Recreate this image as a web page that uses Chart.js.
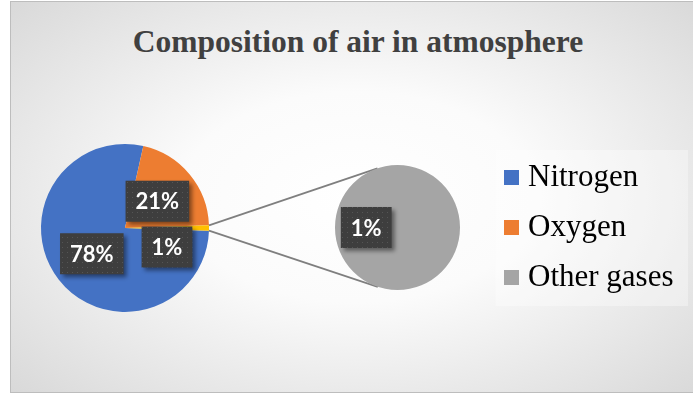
<!DOCTYPE html>
<html>
<head>
<meta charset="utf-8">
<script src="https://cdn.jsdelivr.net/npm/chart.js@4.4.0/dist/chart.umd.min.js"></script>
<style>
html, body { margin:0; padding:0; width:693px; height:394px; overflow:hidden; background:#fff; }
#marco {
    position:absolute; left:10px; top:1px; width:690px; height:390px;
    border:1px solid #bdbdbd;
    background: radial-gradient(ellipse 85% 90% at 50% 50%, #ffffff 0%, #fbfbfb 30%, #cccccc 100%);
}
#titulo {
    position:absolute; left:0; top:22px; width:716px; text-align:center;
    font: bold 31.5px "Liberation Serif", "Times New Roman", serif; line-height:40px; color:#404040;
}
canvas { position:absolute; left:0; top:0; }
</style>
</head>
<body>
<div id="marco"></div>
<div id="titulo">Composition of air in atmosphere</div>
<canvas id="graficaPrincipal" width="693" height="394"></canvas>
<canvas id="graficaSecundaria" width="693" height="394"></canvas>
<script>
// data (percent of air)
var categories = ["Nitrogen", "Oxygen", "Other gases"];
var values = [78, 21, 1];
var secondPieCount = 1; // last categories split off into the second pie

var total = values.reduce(function(a, b){ return a + b; }, 0);
var mainLabels = categories.slice(0, categories.length - secondPieCount).concat(["Other"]);
var mainValues = values.slice(0, values.length - secondPieCount);
var otherTotal = values.slice(values.length - secondPieCount).reduce(function(a, b){ return a + b; }, 0);
mainValues.push(otherTotal);
var subLabels = categories.slice(categories.length - secondPieCount);
var subValues = values.slice(values.length - secondPieCount);

var mainColors = ['#4472C4', '#ED7D31', '#FFC000'];
var subColors = ['#A5A5A5'];
var legendColors = ['#4472C4', '#ED7D31', '#A5A5A5'];

var mainChart, subChart;

// dotted dark label boxes like the excel data labels
var dotPattern = null;
function getPattern(ctx){
    if(!dotPattern){
        var c = document.createElement('canvas');
        c.width = 5; c.height = 5;
        var p = c.getContext('2d');
        p.fillStyle = '#3e3e3e'; p.fillRect(0, 0, 5, 5);
        p.fillStyle = '#555555'; p.fillRect(2, 2, 1, 1);
        dotPattern = ctx.createPattern(c, 'repeat');
    }
    return dotPattern;
}

var percentLabels = {
    id: 'percentLabels',
    afterDatasetsDraw: function(chart, args, opts){
        var ctx = chart.ctx;
        var meta = chart.getDatasetMeta(0);
        var data = chart.data.datasets[0].data;
        ctx.save();
        ctx.font = 'bold 22px Lato';
        ctx.textAlign = 'center';
        ctx.textBaseline = 'middle';
        meta.data.forEach(function(arc, i){
            var mid = (arc.startAngle + arc.endAngle) / 2;
            var r = arc.outerRadius * 0.5;
            var shift = (opts.shift && opts.shift[i]) || [0, 0];
            var x = arc.x + Math.cos(mid) * r + shift[0];
            var y = arc.y + Math.sin(mid) * r + shift[1];
            var text = Math.round(data[i] / total * 100) + '%';
            var w = ctx.measureText(text).width + 20;
            var h = 41;
            ctx.shadowColor = 'rgba(0,0,0,0.45)';
            ctx.shadowBlur = 4;
            ctx.shadowOffsetX = 3;
            ctx.shadowOffsetY = 3;
            ctx.fillStyle = getPattern(ctx);
            ctx.fillRect(x - w / 2, y - h / 2, w, h);
            ctx.shadowColor = 'transparent';
            ctx.fillStyle = '#ffffff';
            ctx.fillText(text, x, y + 1);
        });
        ctx.restore();
    }
};

// lines from the small slice to the tangents of the second pie
var connectors = {
    id: 'connectors',
    beforeDatasetsDraw: function(chart){
        var small = mainChart.getDatasetMeta(0).data[mainValues.length - 1];
        var big = chart.getDatasetMeta(0).data[0];
        var cx = big.x, cy = big.y, R = big.outerRadius;
        var ctx = chart.ctx;
        ctx.save();
        ctx.strokeStyle = '#7f7f7f';
        ctx.lineWidth = 1.75;
        [small.startAngle, small.endAngle].forEach(function(a, k){
            var px = small.x + Math.cos(a) * small.outerRadius;
            var py = small.y + Math.sin(a) * small.outerRadius;
            var dx = px - cx, dy = py - cy;
            var d = Math.sqrt(dx * dx + dy * dy);
            var phi = Math.atan2(dy, dx);
            var alpha = Math.acos(R / d);
            var t1 = phi + alpha, t2 = phi - alpha;
            var t = (k == 0) ? (Math.sin(t1) < Math.sin(t2) ? t1 : t2) : (Math.sin(t1) > Math.sin(t2) ? t1 : t2);
            ctx.beginPath();
            ctx.moveTo(px, py);
            ctx.lineTo(cx + Math.cos(t) * R, cy + Math.sin(t) * R);
            ctx.stroke();
        });
        ctx.restore();
    }
};

// light panel behind the legend
var legendPanel = {
    id: 'legendPanel',
    beforeDraw: function(chart){
        var boxes = chart.legend && chart.legend.legendHitBoxes;
        if(!boxes || !boxes.length) return;
        var first = boxes[0], last = boxes[boxes.length - 1];
        var ctx = chart.ctx;
        ctx.save();
        ctx.fillStyle = 'rgba(255,255,255,0.35)';
        ctx.fillRect(first.left - 15, first.top - 12, 688 - (first.left - 15), last.top + last.height + 13 - (first.top - 12));
        ctx.restore();
    }
};

function generarDatos(){
    principal();
    secundaria();
}

function principal(){
    var canva = document.getElementById("graficaPrincipal").getContext("2d");
    mainChart = new Chart(canva, {
        type: "pie",
        data: {
            labels: mainLabels,
            datasets: [{
                data: mainValues,
                backgroundColor: mainColors,
                borderWidth: 0
            }]
        },
        options: {
            responsive: false,
            animation: false,
            rotation: 90 + otherTotal / total * 180,
            layout: { padding: { left: 41, right: 484, top: 144, bottom: 82 } },
            plugins: {
                legend: { display: false },
                title: { display: false },
                tooltip: { enabled: false },
                percentLabels: { shift: [[0, 0], [0, 0], [0, 19]] }
            }
        },
        plugins: [percentLabels]
    });
}

function secundaria(){
    var canva = document.getElementById("graficaSecundaria").getContext("2d");
    subChart = new Chart(canva, {
        type: "pie",
        data: {
            labels: subLabels,
            datasets: [{
                data: subValues,
                backgroundColor: subColors,
                borderWidth: 0,
                radius: 62.5
            }]
        },
        options: {
            responsive: false,
            animation: false,
            rotation: 90,
            layout: { padding: { left: 303.5, right: 13.5, top: 61, bottom: 0 } },
            plugins: {
                legend: {
                    display: true,
                    position: 'right',
                    labels: {
                        usePointStyle: true,
                        pointStyle: 'rect',
                        boxWidth: 2,
                        boxHeight: 15,
                        padding: 19,
                        color: '#404040',
                        font: { family: 'Liberation Serif', size: 31 },
                        generateLabels: function(){
                            return categories.map(function(c, i){
                                return { text: c, fillStyle: legendColors[i], strokeStyle: legendColors[i],
                                         lineWidth: 0, pointStyle: 'rect', hidden: false, index: i };
                            });
                        }
                    }
                },
                title: { display: false },
                tooltip: { enabled: false },
                percentLabels: { shift: [[0, 0]] }
            }
        },
        plugins: [legendPanel, connectors, percentLabels]
    });
}

generarDatos();
</script>
</body>
</html>
